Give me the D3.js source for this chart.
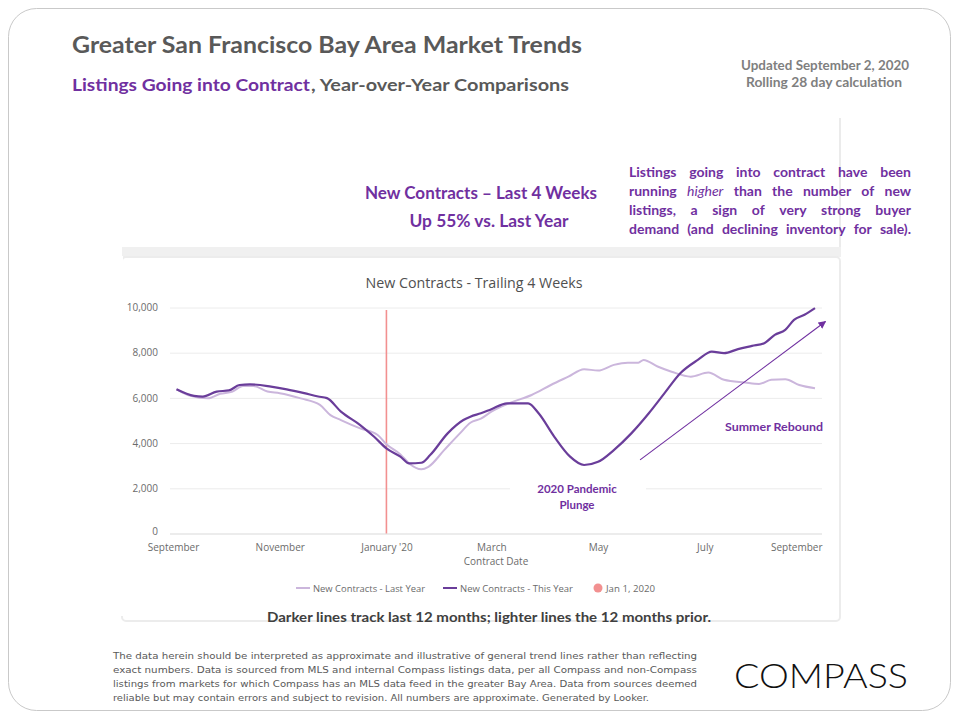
<!DOCTYPE html>
<html>
<head>
<meta charset="utf-8">
<script src="https://cdn.jsdelivr.net/npm/d3@7"></script>
<style>
  html, body { margin: 0; padding: 0; background: #ffffff; }
  svg { display: block; }
</style>
</head>
<body>
<svg id="chart" width="960" height="720"></svg>
<script>
// ---------------- DATA ----------------
const thisYearDates = ["2019-09-03","2019-09-13","2019-09-18","2019-09-26","2019-10-03","2019-10-09","2019-10-15","2019-10-27","2019-11-05","2019-11-15","2019-11-23","2019-11-28","2019-12-06","2019-12-17","2019-12-25","2020-01-01","2020-01-09","2020-01-14","2020-01-21","2020-01-26","2020-02-05","2020-02-14","2020-02-18","2020-02-24","2020-03-01","2020-03-10","2020-03-22","2020-03-28","2020-04-06","2020-04-15","2020-04-23","2020-05-01","2020-05-10","2020-05-20","2020-05-30","2020-06-08","2020-06-17","2020-06-27","2020-07-05","2020-07-12","2020-07-20","2020-07-28","2020-08-04","2020-08-10","2020-08-16","2020-08-21","2020-08-27","2020-09-02"];
const thisYearValues = [6380,6090,6060,6280,6330,6570,6600,6500,6380,6210,6060,5990,5390,4800,4280,3770,3400,3100,3130,3470,4430,5020,5170,5320,5500,5760,5760,5320,4280,3400,3030,3170,3690,4430,5320,6210,7090,7680,8050,7980,8160,8300,8420,8790,9010,9450,9680,9970];

const lastYearDates = ["2019-09-03","2019-09-11","2019-09-21","2019-09-28","2019-10-05","2019-10-11","2019-10-17","2019-10-25","2019-11-01","2019-11-13","2019-11-24","2019-11-30","2019-12-06","2019-12-17","2019-12-27","2020-01-01","2020-01-09","2020-01-14","2020-01-21","2020-01-25","2020-02-03","2020-02-12","2020-02-18","2020-02-24","2020-03-01","2020-03-12","2020-03-24","2020-04-04","2020-04-14","2020-04-23","2020-05-01","2020-05-10","2020-05-18","2020-05-24","2020-05-27","2020-06-04","2020-06-12","2020-06-23","2020-07-03","2020-07-12","2020-07-24","2020-08-01","2020-08-08","2020-08-16","2020-08-24","2020-09-02"];
const lastYearValues = [6380,6090,5980,6180,6280,6530,6530,6280,6210,5980,5690,5240,5020,4650,4360,3950,3500,3100,2840,2950,3690,4430,4900,5080,5390,5790,6130,6570,6940,7270,7210,7460,7560,7560,7680,7390,7160,6940,7120,6800,6680,6620,6800,6830,6570,6430];

const xTickDates = ["2019-09-01","2019-11-01","2020-01-01","2020-03-01","2020-05-01","2020-07-01","2020-09-01"];
const xTickLabels = ["September","November","January '20","March","May","July","September"];
const yTickValues = [0,2000,4000,6000,8000,10000];
const markerDate = "2020-01-01";
const legendLabels = ["New Contracts - Last Year","New Contracts - This Year","Jan 1, 2020"];
const arrowFrom = {date: "2020-05-25", value: 3260};
const arrowTo = {date: "2020-09-08", value: 9380};

// ---------------- SETUP ----------------
const parse = d3.timeParse("%Y-%m-%d");
const svg = d3.select("#chart");
const PURPLE = "#7030a0";
const DARK = "#6a3d9a";
const LIGHT = "#cbb6dc";
const REDL = "#f29090";

// slide border
svg.append("rect").attr("x",8.5).attr("y",8.5).attr("width",942).attr("height",702)
  .attr("rx",28).attr("fill","#fff").attr("stroke","#c9c9c9").attr("stroke-width",1);

// titles
svg.append("text").attr("x",72).attr("y",53).attr("font-family","Lato").attr("font-weight",700)
  .attr("font-size",23).attr("fill","#595959").attr("textLength",510).attr("lengthAdjust","spacingAndGlyphs")
  .text("Greater San Francisco Bay Area Market Trends");
svg.append("text").attr("x",72).attr("y",91).attr("font-family","Lato").attr("font-weight",700)
  .attr("font-size",17.5).attr("fill",PURPLE).attr("textLength",238).attr("lengthAdjust","spacingAndGlyphs")
  .text("Listings Going into Contract");
svg.append("text").attr("x",311).attr("y",91).attr("font-family","Lato").attr("font-weight",700)
  .attr("font-size",17.5).attr("fill","#595959").attr("textLength",258).attr("lengthAdjust","spacingAndGlyphs")
  .text(",  Year-over-Year  Comparisons");

svg.append("text").attr("x",825).attr("y",70).attr("text-anchor","middle").attr("font-family","Lato").attr("font-weight",700)
  .attr("font-size",13).attr("fill","#7f7f7f").attr("textLength",168).attr("lengthAdjust","spacingAndGlyphs").text("Updated September 2, 2020");
svg.append("text").attr("x",824).attr("y",87).attr("text-anchor","middle").attr("font-family","Lato").attr("font-weight",700)
  .attr("font-size",13).attr("fill","#7f7f7f").attr("textLength",156).attr("lengthAdjust","spacingAndGlyphs").text("Rolling 28  day calculation");

// card edges
svg.append("line").attr("x1",840).attr("x2",840).attr("y1",118).attr("y2",247)
  .attr("stroke","#ebebeb").attr("stroke-width",2);
svg.append("rect").attr("x",122).attr("y",247).attr("width",719).attr("height",10).attr("fill","#f0f0f0");
svg.append("rect").attr("x",122).attr("y",257).attr("width",718).attr("height",364).attr("rx",4)
  .attr("fill","#fff").attr("stroke","#ececec").attr("stroke-width",2);
svg.append("rect").attr("x",121).attr("y",256).attr("width",2).attr("height",360).attr("fill","#fff");

// headline texts
svg.append("text").attr("x",481).attr("y",199).attr("text-anchor","middle").attr("font-family","Lato").attr("font-weight",700)
  .attr("font-size",16.5).attr("fill",PURPLE).attr("textLength",232).attr("lengthAdjust","spacingAndGlyphs")
  .text("New Contracts – Last 4 Weeks");
svg.append("text").attr("x",489).attr("y",227).attr("text-anchor","middle").attr("font-family","Lato").attr("font-weight",700)
  .attr("font-size",16.5).attr("fill",PURPLE).attr("textLength",159).attr("lengthAdjust","spacingAndGlyphs")
  .text("Up 55% vs. Last Year");

// word-justified paragraph
const para = [
  [["Listings"],["going"],["into"],["contract"],["have"],["been"]],
  [["running"],["higher",true],["than"],["the"],["number"],["of"],["new"]],
  [["listings,"],["a"],["sign"],["of"],["very"],["strong"],["buyer"]],
  [["demand"],["(and"],["declining"],["inventory"],["for"],["sale)."]]
];
const paraX = 629, paraW = 282;
para.forEach((words,i)=>{
  const t = svg.append("text").attr("y",177+i*19).attr("font-family","Lato").attr("font-weight",700)
    .attr("font-size",14).attr("fill",PURPLE);
  const spans = words.map(w=>{
    const s = t.append("tspan").text(w[0]);
    if (w[1]) s.attr("font-style","italic").attr("font-weight",400);
    return s;
  });
  const widths = spans.map(s=>s.node().getComputedTextLength());
  const total = d3.sum(widths);
  const gap = (paraW - total) / (words.length - 1);
  let cx = paraX;
  spans.forEach((s,k)=>{ s.attr("x",cx); cx += widths[k] + gap; });
});

// ---------------- CHART ----------------
const x = d3.scaleTime().domain([parse("2019-09-01"), parse("2020-09-02")]).range([173, 815]);
const y = d3.scaleLinear().domain([0,10000]).range([533.5, 307.5]);
const plotL = 170, plotR = 822;

svg.append("text").attr("x",474).attr("y",288).attr("text-anchor","middle").attr("font-family","Open Sans")
  .attr("font-size",14.5).attr("fill","#505050").attr("textLength",217).attr("lengthAdjust","spacingAndGlyphs")
  .text("New Contracts - Trailing 4 Weeks");

// gridlines
const yAxis = d3.axisLeft(y).tickValues(yTickValues).tickFormat(d3.format(",")).tickSize(-(plotR-plotL)).tickPadding(12);
const gy = svg.append("g").attr("transform",`translate(${plotL},0)`).call(yAxis);
gy.select(".domain").remove();
gy.selectAll(".tick line").attr("stroke","#ececec").attr("stroke-width",1);
gy.selectAll(".tick text").attr("font-family","Open Sans").attr("font-size",10).attr("fill","#6b6b6b");
gy.selectAll(".tick").filter(d=>d===0).select("line").attr("stroke","#d9d9d9");
gy.selectAll(".tick").filter(d=>d===0).select("text").attr("dy","0.1em");

// x axis
const xAxis = d3.axisBottom(x).tickValues(xTickDates.map(parse))
  .tickFormat((d,i)=>xTickLabels[i]).tickSize(0).tickPadding(10);
const gx = svg.append("g").attr("transform",`translate(0,${y(0)})`).call(xAxis);
gx.select(".domain").remove();
gx.selectAll(".tick text").attr("font-family","Open Sans").attr("font-size",10).attr("fill","#6b6b6b");
gx.selectAll(".tick text").filter((d,i)=>i===xTickLabels.length-1).attr("text-anchor","end").attr("dx", plotR - x(parse(xTickDates[6])) );

svg.append("text").attr("x",496).attr("y",565).attr("text-anchor","middle").attr("font-family","Open Sans")
  .attr("font-size",10).attr("fill","#6b6b6b").text("Contract Date");

// annotation background for plunge label (covers gridline)
svg.append("rect").attr("x",510).attr("y",481).attr("width",136).attr("height",14).attr("fill","#fff");

// marker line
svg.append("line").attr("x1",x(parse(markerDate))).attr("x2",x(parse(markerDate)))
  .attr("y1",310).attr("y2",y(0)).attr("stroke",REDL).attr("stroke-width",1.6);

// lines
const lineGen = d3.line().x(d=>x(d.date)).y(d=>y(d.value)).curve(d3.curveMonotoneX);
const lastYear = lastYearDates.map((d,i)=>({date:parse(d), value:lastYearValues[i]}));
const thisYear = thisYearDates.map((d,i)=>({date:parse(d), value:thisYearValues[i]}));
svg.append("path").datum(lastYear).attr("d",lineGen).attr("fill","none").attr("stroke",LIGHT).attr("stroke-width",2);
svg.append("path").datum(thisYear).attr("d",lineGen).attr("fill","none").attr("stroke",DARK).attr("stroke-width",2.2);

// legend
const lg = svg.append("g").attr("font-family","Open Sans").attr("font-size",9.5).attr("fill","#6b6b6b");
lg.append("line").attr("x1",296).attr("x2",310).attr("y1",588).attr("y2",588).attr("stroke",LIGHT).attr("stroke-width",2);
lg.append("text").attr("x",313).attr("y",591.5).attr("textLength",112).attr("lengthAdjust","spacingAndGlyphs").text(legendLabels[0]);
lg.append("line").attr("x1",443).attr("x2",457).attr("y1",588).attr("y2",588).attr("stroke",DARK).attr("stroke-width",2);
lg.append("text").attr("x",460).attr("y",591.5).attr("textLength",113).attr("lengthAdjust","spacingAndGlyphs").text(legendLabels[1]);
lg.append("circle").attr("cx",598).attr("cy",588).attr("r",4.5).attr("fill",REDL);
lg.append("text").attr("x",606).attr("y",591.5).attr("textLength",49).attr("lengthAdjust","spacingAndGlyphs").text(legendLabels[2]);

// annotations
const defs = svg.append("defs");
defs.append("marker").attr("id","arr").attr("viewBox","0 0 10 10").attr("refX",9).attr("refY",5)
  .attr("markerWidth",7).attr("markerHeight",7).attr("orient","auto-start-reverse")
  .append("path").attr("d","M0,0 L10,5 L0,10 z").attr("fill",PURPLE);
svg.append("line").attr("x1",x(parse(arrowFrom.date))).attr("y1",y(arrowFrom.value))
  .attr("x2",x(parse(arrowTo.date))).attr("y2",y(arrowTo.value))
  .attr("stroke",PURPLE).attr("stroke-width",1.1).attr("marker-end","url(#arr)");

svg.append("text").attr("x",823).attr("y",431).attr("text-anchor","end").attr("font-family","Lato").attr("font-weight",700)
  .attr("font-size",11.5).attr("fill",PURPLE).attr("textLength",98).attr("lengthAdjust","spacingAndGlyphs").text("Summer Rebound");
svg.append("text").attr("x",577).attr("y",493).attr("text-anchor","middle").attr("font-family","Lato").attr("font-weight",700)
  .attr("font-size",11.5).attr("fill",PURPLE).text("2020 Pandemic");
svg.append("text").attr("x",577).attr("y",509).attr("text-anchor","middle").attr("font-family","Lato").attr("font-weight",700)
  .attr("font-size",11.5).attr("fill",PURPLE).text("Plunge");

// caption
svg.append("text").attr("x",489).attr("y",622).attr("text-anchor","middle").attr("font-family","Lato").attr("font-weight",700)
  .attr("font-size",13).attr("fill","#404040").attr("textLength",444).attr("lengthAdjust","spacingAndGlyphs")
  .text("Darker lines track last 12 months; lighter lines the 12 months prior.");

// disclaimer
const disc = [
  "The data herein should be interpreted as approximate and illustrative of general trend lines rather than reflecting",
  "exact numbers. Data is sourced from MLS and internal Compass listings data, per all Compass and non-Compass",
  "listings from markets for which Compass has an MLS data feed in the greater Bay Area. Data from sources deemed",
  "reliable but may contain  errors and subject to revision. All numbers are approximate. Generated by Looker."
];
const discLen = [584,584,584,536];
disc.forEach((s,i)=>{
  svg.append("text").attr("x",113).attr("y",659+i*14).attr("font-family","DejaVu Sans Condensed, Roboto Condensed, Roboto")
    .attr("font-size",9.5).attr("fill","#595959").attr("textLength",discLen[i]).attr("lengthAdjust","spacingAndGlyphs").text(s);
});

// logo
svg.append("text").attr("x",734).attr("y",688).attr("font-family","Lato").attr("font-weight",300)
  .attr("font-size",34).attr("fill","#111").attr("textLength",174).attr("lengthAdjust","spacingAndGlyphs").text("COMPASS");
</script>
</body>
</html>
